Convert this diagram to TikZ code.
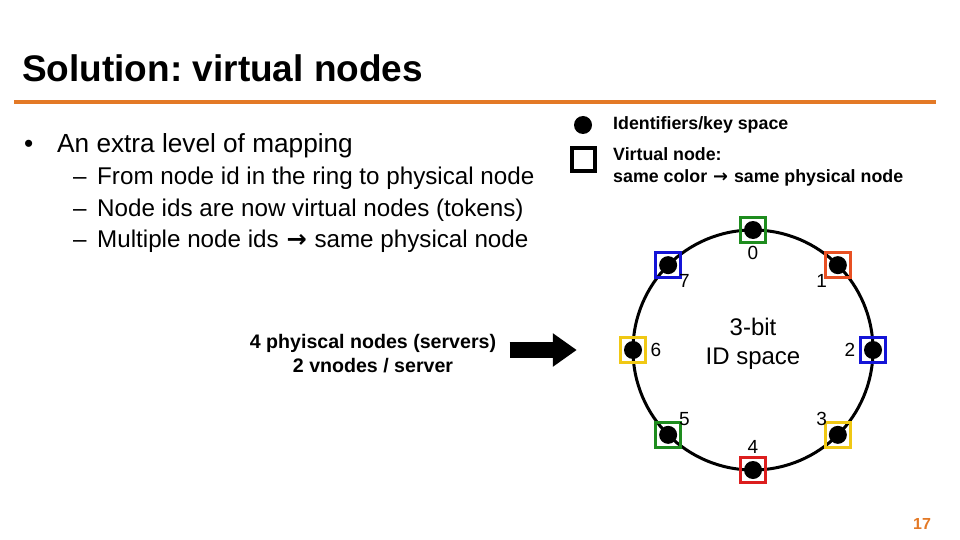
\documentclass[tikz,border=0pt]{standalone}
\usepackage{fontspec}
\setmainfont{Liberation Sans}
\newfontfamily\symfont{DejaVu Sans}
\usetikzlibrary{positioning,arrows.meta,calc}
\definecolor{slideorange}{RGB}{227,121,38}
\definecolor{vgreen}{RGB}{30,140,30}
\definecolor{vred}{RGB}{220,30,30}
\definecolor{vorange}{RGB}{232,80,35}
\definecolor{vblue}{RGB}{20,20,215}
\definecolor{vyellow}{RGB}{240,200,20}
\newcommand\fsz[2]{\fontsize{#1}{#2}\selectfont}
\newcommand\rarr{{\symfont\bfseries\kern1pt→\kern1pt}}
\frenchspacing

\begin{document}
\begin{tikzpicture}[x=1pt, y=-1pt,
  title/.style={font=\bfseries\fsz{37}{40}, anchor=base west, inner sep=0pt},
  txt/.style={font=\fsz{26.2}{30}, anchor=base west, inner sep=0pt},
  sub/.style={font=\fsz{24.2}{28}, anchor=base west, inner sep=0pt},
  leg/.style={font=\bfseries\fsz{17.8}{22}, anchor=west, inner sep=0pt, align=left},
  num/.style={font=\fsz{19}{19}, inner sep=0pt},
  dot/.style={circle, fill=black, minimum size=18pt, inner sep=0pt},
  vbox/.style={draw, line width=3.5pt, minimum size=25pt, inner sep=0pt},
  ring/.style={line width=3pt},
  bigar/.style={line width=16pt, -{Triangle[length=24pt, width=32pt]}},
]
\useasboundingbox (0,0) rectangle (960,540);

\node[title] (ttl) at (22,82) {Solution: virtual nodes};
\draw[slideorange, line width=4pt] (14,102.5) -- (936,102.5);

\node[txt] (blt) at (24,153) {•};
\node[txt] (b1) at (57,153) {An extra level of mapping};
\foreach \t [count=\k] in {From node id in the ring to physical node,
    Node ids are now virtual nodes (tokens),
    Multiple node ids \rarr{} same physical node} {
  \node[sub] (dash\k) at (73,{154+31*\k}) {–};
  \node[sub] (s\k) at (97,{154+31*\k}) {\t};
}

\node[dot] (kdot) at (583,125) {};
\node[leg] (kdottxt) at (613,125) {Identifiers/key space};
\node[vbox, minimum size=23pt, line width=4pt] (ksq) at (583,160) {};
\node[leg] (ksqtxt) at (613,167) {Virtual node:\\same color \rarr{} same physical node};

\coordinate (rc) at (753,350);
\draw[ring] (rc) circle (120);
\node[font=\fsz{24}{29}, align=center] (idsp) at (753,344) {3-bit\\ID space};
\foreach \i/\col in {0/vgreen,1/vorange,2/vblue,3/vyellow,4/vred,5/vgreen,6/vyellow,7/vblue} {
  \node[vbox, draw=\col] (v\i) at ($(rc)+({45*\i-90}:120)$) {};
  \node[dot] (d\i) at (v\i) {};
  \node[num] (l\i) at ($(rc)+({45*\i-90}:97)$) {\i};
}

\node[font=\bfseries\fsz{19.6}{24}, align=center] (phys) at (373,354)
  {4 phyiscal nodes (servers)\\2 vnodes / server};
\draw[bigar] ([xshift=10pt]phys.east |- v6) -- ([xshift=-42pt]v6.west);

\node[font=\bfseries\fsz{16}{16}, text=slideorange] (pg) at (922,524) {17};
\end{tikzpicture}
\end{document}
